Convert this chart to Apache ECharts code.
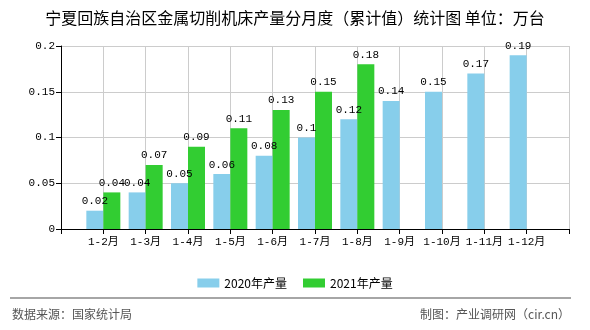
<!DOCTYPE html>
<html><head><meta charset="utf-8">
<script src="https://cdn.jsdelivr.net/npm/echarts@6/dist/echarts.min.js"></script>
<style>html,body{margin:0;padding:0;background:#fff}#c{width:590px;height:330px}</style>
</head><body><div id="c"></div>
<script>
const categories = ["1-2月","1-3月","1-4月","1-5月","1-6月","1-7月","1-8月","1-9月","1-10月","1-11月","1-12月"];
const values2020 = [0.02,0.04,0.05,0.06,0.08,0.1,0.12,0.14,0.15,0.17,0.19];
const values2021 = [0.04,0.07,0.09,0.11,0.13,0.15,0.18,null,null,null,null];
const yTicks = [0,0.05,0.1,0.15,0.2];
const seriesNames = ["2020年产量","2021年产量"];

const axisCats = [""].concat(categories, [""]);
const pad = arr => [null].concat(arr, [null]);
const mono = "'Liberation Mono','Noto Sans CJK SC',monospace";

const chart = echarts.init(document.getElementById('c'));
const lbl = {show:true, position:'top', distance:4, color:'#000', fontSize:11, fontFamily:mono,
  formatter: p => p.value == null ? '' : String(p.value)};
chart.setOption({
  animation:false,
  title:{text:'宁夏回族自治区金属切削机床产量分月度（累计值）统计图 单位：万台', left:'center', top:5,
    textStyle:{fontSize:16, fontWeight:'normal', color:'#000', fontFamily:"'Noto Sans CJK SC'"}},
  grid:{left:61, right:21, top:46, bottom:101},
  legend:{data:seriesNames, left:'center', top:272, icon:'rect', itemWidth:22, itemHeight:9, itemGap:16,
    textStyle:{fontSize:12, color:'#000', fontFamily:"'Noto Sans CJK SC'"}},
  xAxis:{type:'category', data:axisCats, boundaryGap:false,
    axisLine:{lineStyle:{color:'#000'}}, axisTick:{show:true, length:5, lineStyle:{color:'#000'}},
    axisLabel:{color:'#000', fontSize:11, fontFamily:mono, interval:0, margin:8},
    splitLine:{show:true, lineStyle:{color:'#ccc'}}},
  yAxis:{type:'value', min:yTicks[0], max:yTicks[yTicks.length-1], interval:0.05,
    axisLine:{show:true, lineStyle:{color:'#000'}}, axisTick:{show:true, length:5, lineStyle:{color:'#000'}},
    axisLabel:{color:'#000', fontSize:11, fontFamily:mono, margin:6},
    splitLine:{show:true, lineStyle:{color:'#ccc'}}},
  series:[
    {name:seriesNames[0], type:'bar', data:pad(values2020), barWidth:17, barGap:'0%', itemStyle:{color:'#87CEEB'}, label:lbl},
    {name:seriesNames[1], type:'bar', data:pad(values2021), barWidth:17, barGap:'0%', itemStyle:{color:'#32CD32'}, label:lbl}
  ],
  graphic:[
    {type:'line', shape:{x1:10,y1:298,x2:571,y2:298}, style:{stroke:'#888', lineWidth:1.5}},
    {type:'text', left:12, top:308, style:{text:'数据来源：国家统计局', fill:'#555', fontSize:12, fontFamily:"'Noto Sans CJK SC'"}},
    {type:'text', right:20, top:308, style:{text:'制图：产业调研网（cir.cn）', fill:'#555', fontSize:12, fontFamily:"'Noto Sans CJK SC'"}}
  ]
});
</script></body></html>
